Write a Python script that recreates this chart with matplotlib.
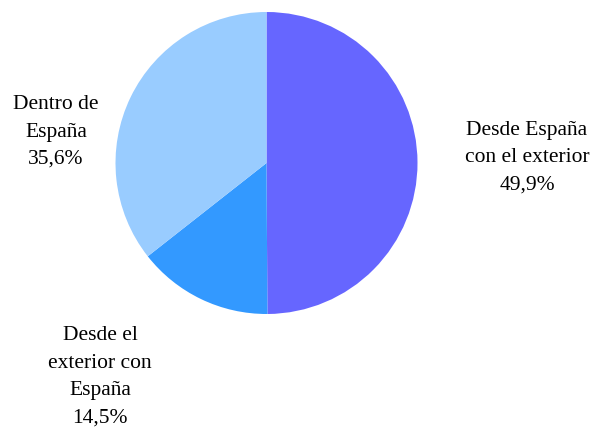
import matplotlib.pyplot as plt

plt.rcParams['font.family'] = ['Liberation Serif', 'DejaVu Serif']

# data
labels = ['Desde España\ncon el exterior', 'Desde el\nexterior con\nEspaña', 'Dentro de\nEspaña']
values = [49.9, 14.5, 35.6]
colors = ['#6666FF', '#3399FF', '#99CCFF']

# label centres in figure pixels (x, y from top)
label_pos = [(527, 158), (100, 377), (56, 132)]

W, H = 594, 432
fig = plt.figure(figsize=(W / 100, H / 100), dpi=100)
fig.patch.set_facecolor('white')

cx, cy, r = 266.5, 163, 151
ax = fig.add_axes([(cx - r) / W, (H - cy - r) / H, 2 * r / W, 2 * r / H])
ax.pie(values, colors=colors, startangle=90, counterclock=False,
       radius=1, wedgeprops=dict(linewidth=0))
ax.set_xlim(-1, 1)
ax.set_ylim(-1, 1)
ax.set_aspect('auto')
ax.axis('off')

for lab, val, (px, py) in zip(labels, values, label_pos):
    txt = f"{lab}\n{val:.1f}%".replace('.', ',')
    fig.text(px / W, 1 - py / H, txt, ha='center', va='center',
             fontsize=15.5, linespacing=1.6, color='black')

plt.savefig('out.png', dpi=100, facecolor='white')
plt.close()
